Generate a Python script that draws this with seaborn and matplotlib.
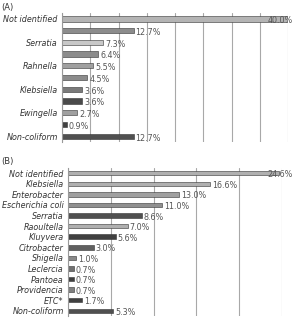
import numpy as np
import pandas as pd
import seaborn as sns
import matplotlib.pyplot as plt
from matplotlib.transforms import blended_transform_factory

# ------------------ DATA ------------------
# panel A: every other category label is hidden in the original
a_labels = ['Not identified', '', 'Serratia', '', 'Rahnella', '', 'Klebsiella',
            '', 'Ewingella', '', 'Non-coliform']
a_values = [40.0, 12.7, 7.3, 6.4, 5.5, 4.5, 3.6, 3.6, 2.7, 0.9, 12.7]
a_colors = ['#b4b4b4', '#8c8c8c', '#c8c8c8', '#8c8c8c', '#a0a0a0', '#8c8c8c',
            '#7a7a7a', '#4a4a4a', '#a0a0a0', '#404040', '#505050']

b_labels = ['Not identified', 'Klebsiella', 'Enterobacter', 'Escherichia coli',
            'Serratia', 'Raoultella', 'Kluyvera', 'Citrobacter', 'Shigella',
            'Leclercia', 'Pantoea', 'Providencia', 'ETC*', 'Non-coliform']
b_values = [24.6, 16.6, 13.0, 11.0, 8.6, 7.0, 5.6, 3.0, 1.0, 0.7, 0.7, 0.7, 1.7, 5.3]
b_colors = ['#b0b0b0', '#b0b0b0', '#a0a0a0', '#909090', '#505050', '#b0b0b0',
            '#404040', '#606060', '#8a8a8a', '#707070', '#404040', '#808080',
            '#404040', '#505050']

sns.set_style('white')
plt.rcParams['font.family'] = ['DejaVu Sans']

fig = plt.figure(figsize=(2.94, 3.18), dpi=100)
ax_a = fig.add_axes([0.211, 0.553, 0.769, 0.406])
ax_b = fig.add_axes([0.231, 0.006, 0.728, 0.466])


def draw_panel(ax, labels, values, colors, xmax, bar_w):
    df = pd.DataFrame({'row': [str(i) for i in range(len(values))], 'value': values})
    sns.barplot(data=df, x='value', y='row', hue='row', palette=colors, legend=False,
                orient='h', width=bar_w, edgecolor='#333333', linewidth=0.4, ax=ax)
    ax.set_xlim(0, xmax)
    ax.set_ylim(len(values) - 0.5, -0.5)
    ax.set_xticks(np.arange(0, xmax + 1, 5))
    ax.set_xticklabels([])
    ax.set_yticks(range(len(values)))
    ax.set_yticklabels(labels, fontsize=5.8, style='italic', color='#333333')
    ax.set_yticks(np.arange(-0.5, len(values), 1), minor=True)
    ax.tick_params(axis='y', which='major', length=0, pad=3)
    ax.tick_params(axis='y', which='minor', length=2, color='#999999', width=0.5)
    ax.tick_params(axis='x', length=2, color='#999999', width=0.5, direction='out')
    ax.grid(axis='x', color='#a8a8a8', linewidth=0.8)
    ax.set_axisbelow(True)
    ax.set_xlabel('')
    ax.set_ylabel('')
    for s in ['top', 'right', 'bottom']:
        ax.spines[s].set_visible(False)
    ax.spines['left'].set_color('#999999')
    ax.spines['left'].set_linewidth(0.8)

    edge = blended_transform_factory(fig.transFigure, ax.transData)
    for i, v in enumerate(values):
        if v > xmax * 0.9:
            # the longest bar's label sits over the bar end, at the figure edge
            ax.text(0.995, i + 0.15, f'{v:.1f}%', fontsize=5.8, color='#555555',
                    va='center', ha='right', transform=edge, clip_on=False)
        else:
            ax.text(v + xmax * 0.008, i + 0.15, f'{v:.1f}%', fontsize=5.8,
                    color='#555555', va='center', ha='left', clip_on=False)


draw_panel(ax_a, a_labels, a_values, a_colors, 40, 0.45)
draw_panel(ax_b, b_labels, b_values, b_colors, 25, 0.42)

fig.text(0.005, 0.99, '(A)', fontsize=6, color='#333333', va='top')
fig.text(0.005, 0.505, '(B)', fontsize=6, color='#333333', va='top')

fig.savefig('out.png', dpi=100)
